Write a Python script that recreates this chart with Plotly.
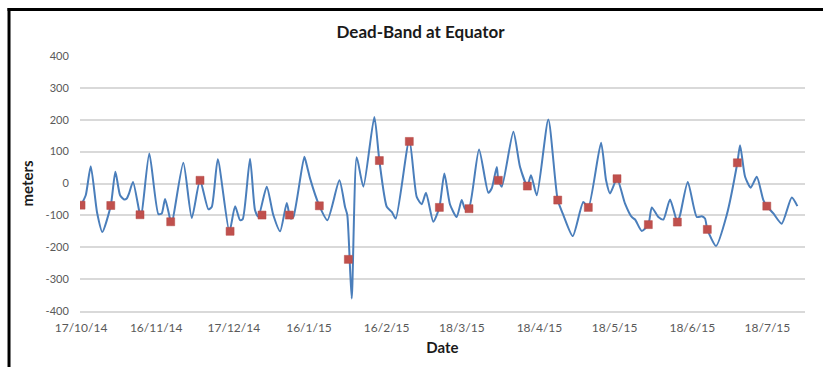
import plotly.graph_objects as go

# Dead-band excursion time series (metres) and the periodic sample points
line_dates = [
    "2014-10-17 00:00", "2014-10-18 21:00", "2014-10-20 21:00", "2014-10-23 09:00", "2014-10-25 12:00",
    "2014-10-28 21:00", "2014-10-30 17:00", "2014-11-01 14:00", "2014-11-03 04:00", "2014-11-04 06:00",
    "2014-11-05 04:00", "2014-11-06 18:00", "2014-11-09 13:00", "2014-11-10 00:00", "2014-11-13 06:00",
    "2014-11-16 21:00", "2014-11-18 05:00", "2014-11-19 13:00", "2014-11-21 19:00", "2014-11-22 05:00",
    "2014-11-26 20:00", "2014-11-30 05:00", "2014-12-03 12:00", "2014-12-06 20:00", "2014-12-08 04:00",
    "2014-12-10 14:00", "2014-12-15 05:00", "2014-12-17 12:00", "2014-12-19 11:00", "2014-12-20 13:00",
    "2014-12-23 11:00", "2014-12-25 11:00", "2014-12-26 19:00", "2014-12-30 03:00", "2015-01-01 18:00",
    "2015-01-04 11:00", "2015-01-07 03:00", "2015-01-08 04:00", "2015-01-08 17:00", "2015-01-09 18:00",
    "2015-01-14 03:00", "2015-01-15 02:00", "2015-01-15 18:00", "2015-01-16 10:00", "2015-01-20 03:00",
    "2015-01-23 08:00", "2015-01-28 03:00", "2015-01-30 09:00", "2015-01-31 07:00", "2015-02-02 01:00",
    "2015-02-04 01:00", "2015-02-06 17:00", "2015-02-11 02:00", "2015-02-13 02:00", "2015-02-16 01:00",
    "2015-02-18 01:00", "2015-02-19 15:00", "2015-02-25 01:00", "2015-02-28 00:00", "2015-03-02 00:00",
    "2015-03-03 17:00", "2015-03-06 15:00", "2015-03-09 01:00", "2015-03-11 01:00", "2015-03-13 07:00",
    "2015-03-15 23:00", "2015-03-17 23:00", "2015-03-19 07:00", "2015-03-20 21:00", "2015-03-24 21:00",
    "2015-03-28 14:00", "2015-03-29 23:00", "2015-03-31 23:00", "2015-04-01 14:00", "2015-04-02 23:00",
    "2015-04-07 14:00", "2015-04-10 06:00", "2015-04-13 04:00", "2015-04-14 15:00", "2015-04-16 22:00",
    "2015-04-21 13:00", "2015-04-25 07:00", "2015-04-27 13:00", "2015-05-01 07:00", "2015-05-05 12:00",
    "2015-05-07 12:00", "2015-05-12 14:00", "2015-05-14 14:00", "2015-05-16 04:00", "2015-05-18 23:00",
    "2015-05-22 04:00", "2015-05-24 20:00", "2015-05-26 04:00", "2015-05-28 20:00", "2015-05-31 11:00",
    "2015-06-01 20:00", "2015-06-04 11:00", "2015-06-06 11:00", "2015-06-09 03:00", "2015-06-12 01:00",
    "2015-06-13 03:00", "2015-06-16 05:00", "2015-06-19 19:00", "2015-06-21 19:00", "2015-06-23 02:00",
    "2015-06-24 00:00", "2015-06-27 12:00", "2015-07-01 18:00", "2015-07-06 00:00", "2015-07-07 02:00",
    "2015-07-09 02:00", "2015-07-11 08:00", "2015-07-13 18:00", "2015-07-16 09:00", "2015-07-17 18:00",
    "2015-07-20 09:00", "2015-07-23 17:00", "2015-07-27 17:00", "2015-07-29 23:00",
]
line_values = [
    -68, -37, 54, -90, -152,
    -69, 37, -37, -50, -47,
    -31, 5, -98, -104, 94,
    -96, -94, -49, -120, -128,
    65, -108, 10, -81, -74,
    76, -152, -71, -115, -112,
    78, -84, -104, -10, -99,
    -150, -61, -99, -110, -105,
    84, 58, 37, 16, -70,
    -115, 10, -73, -99, -361,
    82, -10, 209, 72, -73,
    -89, -110, 138, -42, -65,
    -29, -120, -75, 31, -66,
    -105, -52, -80, -78, 107,
    -29, -15, 52, 10, -10,
    162, 52, -8, 26, -37,
    201, -52, -99, -165, -58,
    -75, 128, 10, -31, 15,
    -63, -105, -113, -149, -129,
    -75, -105, -113, -50, -121,
    -99, 5, -105, -103, -110,
    -144, -196, -99, 65, 120,
    21, -13, 21, -52, -71,
    -94, -126, -44, -71,
]

sample_dates = [
    "2014-10-17 00:00", "2014-10-28 21:00", "2014-11-09 13:00", "2014-11-21 19:00",
    "2014-12-03 12:00", "2014-12-15 12:00", "2014-12-28 06:00", "2015-01-08 04:00",
    "2015-01-20 03:00", "2015-01-31 17:00", "2015-02-13 02:00", "2015-02-25 01:00",
    "2015-03-09 01:00", "2015-03-20 21:00", "2015-04-01 14:00", "2015-04-13 04:00",
    "2015-04-25 07:00", "2015-05-07 12:00", "2015-05-18 23:00", "2015-05-31 11:00",
    "2015-06-12 01:00", "2015-06-24 00:00", "2015-07-06 00:00", "2015-07-17 18:00",
]
sample_values = [
    -68, -69, -98, -120,
    10, -150, -99, -99,
    -70, -238, 72, 132,
    -75, -79, 10, -8,
    -52, -75, 15, -129,
    -121, -144, 65, -71,
]

tick_dates = [
    "2014-10-17", "2014-11-16", "2014-12-17", "2015-01-16", "2015-02-16",
    "2015-03-18", "2015-04-18", "2015-05-18", "2015-06-18", "2015-07-18",
]
tick_labels = [
    "17/10/14", "16/11/14", "17/12/14", "16/1/15", "16/2/15",
    "18/3/15", "18/4/15", "18/5/15", "18/6/15", "18/7/15",
]
y_ticks = [-400, -300, -200, -100, 0, 100, 200, 300, 400]
y_tick_labels = ["-400", "-300", "-200", "-100", "0", "100", "200", "300", "400"]

FONT = "Lato, 'Open Sans', sans-serif"
GRID = "#d9d9d9"
TICK_COLOR = "#595959"

fig = go.Figure()
fig.add_trace(go.Scatter(
    x=line_dates, y=line_values, mode="lines",
    line=dict(color="#4a7ebb", width=2, shape="spline", smoothing=0.6),
    showlegend=False, hoverinfo="x+y",
))
fig.add_trace(go.Scatter(
    x=sample_dates, y=sample_values, mode="markers",
    marker=dict(symbol="square", size=8, color="#c0504d",
                line=dict(color="#b24a47", width=0.5)),
    showlegend=False, hoverinfo="x+y",
))

fig.update_layout(
    width=823, height=367,
    margin=dict(l=80, r=18, t=56, b=56),
    paper_bgcolor="white", plot_bgcolor="white",
    font=dict(family=FONT, color=TICK_COLOR, size=11),
    title=dict(text="<b>Dead-Band at Equator</b>", x=0.511, xanchor="center",
               y=0.912, yanchor="middle",
               font=dict(family=FONT, size=17, color="#1a1a1a")),
    xaxis=dict(
        type="date",
        range=["2014-10-16 14:00", "2015-08-02 00:00"],
        tickvals=tick_dates, ticktext=tick_labels,
        showgrid=False, zeroline=False,
        showline=True, linecolor=GRID, linewidth=2,
        ticks="outside", ticklen=5, tickcolor="rgba(0,0,0,0)",
        tickfont=dict(family=FONT, size=12, color=TICK_COLOR),
        title=dict(text="<b>Date</b>", standoff=8,
                   font=dict(family=FONT, size=15, color="#1a1a1a")),
    ),
    yaxis=dict(
        range=[-400, 400], tickvals=y_ticks, ticktext=y_tick_labels,
        showgrid=True, gridcolor=GRID, gridwidth=1.5,
        zeroline=False, showline=False,
        ticks="outside", ticklen=8, tickcolor="rgba(0,0,0,0)",
        tickfont=dict(family=FONT, size=11, color=TICK_COLOR),
        title=dict(text="<b>meters</b>", standoff=8,
                   font=dict(family=FONT, size=15, color="#1a1a1a")),
    ),
    shapes=[
        # frame round the chart: top and left edges
        dict(type="line", xref="paper", yref="paper",
             x0=-0.1, x1=1.03, y0=1.1824, y1=1.1824,
             line=dict(color="black", width=3)),
        dict(type="line", xref="paper", yref="paper",
             x0=-0.0979, x1=-0.0979, y0=-0.23, y1=1.188,
             line=dict(color="black", width=3)),
    ],
)

fig.write_html("out.html")
